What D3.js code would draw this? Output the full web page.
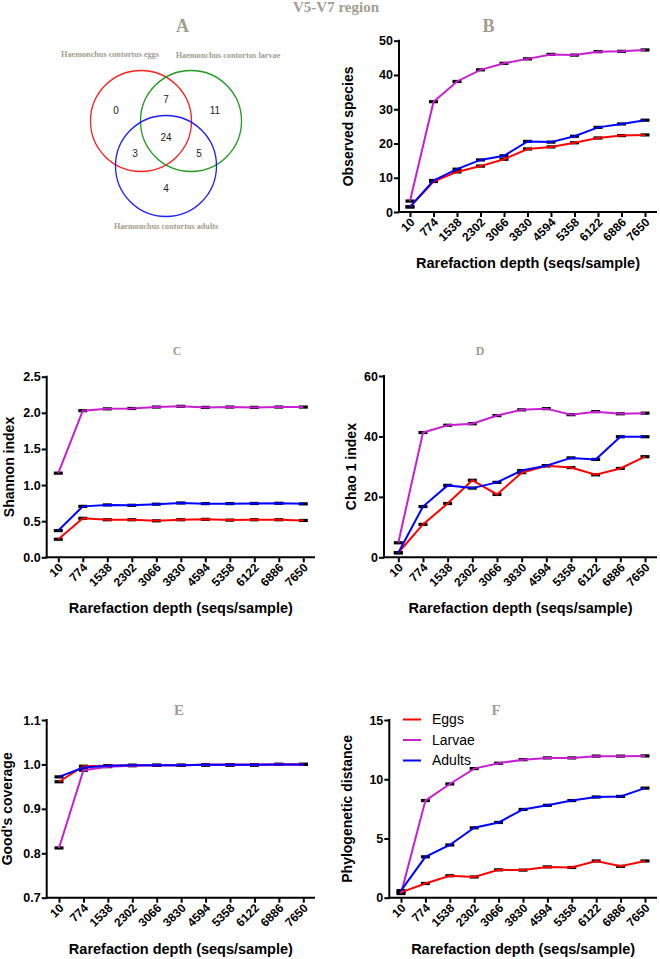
<!DOCTYPE html>
<html><head><meta charset="utf-8">
<script src="https://cdn.jsdelivr.net/npm/d3@7"></script>
<style>body{margin:0;background:#fff}svg{display:block}</style>
</head><body>
<svg id="c" width="660" height="959"></svg>
<script>
const depths = ["10","774","1538","2302","3066","3830","4594","5358","6122","6886","7650"];
const seriesNames = ["Eggs","Larvae","Adults"];
const seriesColors = ["#ff0000","#c81ed2","#0000ff"];

const observedEggs   = [1.5, 8.9, 11.7, 13.4, 15.4, 18.4, 19.0, 20.2, 21.6, 22.3, 22.5];
const observedLarvae = [3.2, 32.2, 38.1, 41.5, 43.4, 44.7, 46.0, 45.8, 46.8, 46.9, 47.3];
const observedAdults = [1.5, 9.2, 12.5, 15.2, 16.4, 20.6, 20.4, 22.1, 24.7, 25.7, 26.8];

const shannonEggs   = [0.25, 0.54, 0.52, 0.52, 0.505, 0.52, 0.525, 0.515, 0.52, 0.52, 0.51];
const shannonLarvae = [1.165, 2.03, 2.055, 2.06, 2.08, 2.09, 2.075, 2.08, 2.075, 2.08, 2.08];
const shannonAdults = [0.37, 0.705, 0.725, 0.72, 0.735, 0.752, 0.743, 0.743, 0.745, 0.748, 0.74];

const chaoEggs   = [1.5, 10.9, 17.8, 25.5, 20.8, 28.0, 30.3, 29.7, 27.3, 29.4, 33.3];
const chaoLarvae = [4.8, 41.3, 43.7, 44.2, 46.9, 48.8, 49.2, 47.2, 48.2, 47.5, 47.7];
const chaoAdults = [1.5, 16.8, 23.8, 22.9, 24.8, 28.7, 30.3, 32.9, 32.4, 39.9, 39.9];

const coverageEggs   = [0.961, 0.996, 0.997, 0.998, 0.998, 0.998, 0.999, 0.999, 0.999, 1.0, 1.0];
const coverageLarvae = [0.812, 0.987, 0.995, 0.997, 0.998, 0.998, 0.999, 0.999, 0.999, 1.0, 1.0];
const coverageAdults = [0.972, 0.993, 0.997, 0.998, 0.998, 0.998, 0.999, 0.999, 0.999, 1.0, 1.0];

const pdEggs   = [0.45, 1.2, 1.85, 1.75, 2.35, 2.33, 2.6, 2.55, 3.1, 2.65, 3.1];
const pdLarvae = [0.35, 8.2, 9.6, 10.9, 11.35, 11.65, 11.8, 11.8, 11.95, 11.95, 11.97];
const pdAdults = [0.6, 3.45, 4.45, 5.9, 6.35, 7.45, 7.8, 8.2, 8.5, 8.55, 9.25];

const vennSetLabels = ["Haemonchus contortus eggs","Haemonchus contortus larvae","Haemonchus contortus adults"];
const vennCounts = {eggsOnly:0, eggsLarvae:7, larvaeOnly:11, all:24, eggsAdults:3, larvaeAdults:5, adultsOnly:4};

const svg = d3.select("#c");
const gray = "#a39d90";
const serif = "'Liberation Serif','Times New Roman',serif";
const sans = "'Liberation Sans',Arimo,Arial,sans-serif";

svg.append("text").attr("x",336).attr("y",12).attr("text-anchor","middle")
  .attr("font-family",serif).attr("font-weight","bold").attr("font-size",15).attr("fill",gray)
  .text("V5-V7 region");

// ---- Venn (A)
svg.append("text").attr("x",182.5).attr("y",32).attr("text-anchor","middle")
  .attr("font-family",serif).attr("font-weight","bold").attr("font-size",18).attr("fill",gray).text("A");
const vc = [{cx:141,cy:121,c:"#ff1e1e"},{cx:191,cy:121,c:"#1e9a1e"},{cx:166,cy:166,c:"#1e1eff"}];
svg.selectAll("circle.venn").data(vc).enter().append("circle")
  .attr("cx",d=>d.cx).attr("cy",d=>d.cy).attr("r",50.5)
  .attr("fill","none").attr("stroke",d=>d.c).attr("stroke-width",1.3);
const vl = [{x:110,y:57,t:vennSetLabels[0]},{x:228,y:58,t:vennSetLabels[1]},{x:166,y:229,t:vennSetLabels[2]}];
svg.selectAll("text.vl").data(vl).enter().append("text")
  .attr("x",d=>d.x).attr("y",d=>d.y).attr("text-anchor","middle")
  .attr("font-family",serif).attr("font-weight","bold").attr("font-size",8.2).attr("fill",gray).text(d=>d.t);
const vn = [{x:116,y:110,v:vennCounts.eggsOnly},{x:166,y:99,v:vennCounts.eggsLarvae},{x:215,y:110,v:vennCounts.larvaeOnly},
  {x:166,y:137,v:vennCounts.all},{x:135,y:153,v:vennCounts.eggsAdults},{x:199,y:153,v:vennCounts.larvaeAdults},{x:166,y:188,v:vennCounts.adultsOnly}];
svg.selectAll("text.vn").data(vn).enter().append("text")
  .attr("x",d=>d.x).attr("y",d=>d.y).attr("dy","0.35em").attr("text-anchor","middle")
  .attr("font-family",sans).attr("font-size",10).attr("fill","#222").text(d=>d.v);

// ---- line panels
function panel(o){
  const g = svg.append("g");
  const x = d3.scalePoint().domain(depths).range([o.x0,o.x1]);
  const y = d3.scaleLinear().domain(o.domain).range([o.yb,o.yt]);
  g.append("text").attr("x",o.lx).attr("y",o.ly).attr("text-anchor","middle")
    .attr("font-family",serif).attr("font-weight","bold").attr("font-size",o.lfs).attr("fill",gray).text(o.letter);
  // y axis
  const ya = g.append("g").attr("transform",`translate(${o.ax},0)`)
    .call(d3.axisLeft(y).tickValues(o.ticks).tickFormat(o.fmt).tickSize(5).tickSizeOuter(0));
  ya.select(".domain").remove();
  g.append("line").attr("x1",o.ax).attr("x2",o.ax).attr("y1",o.yt-1).attr("y2",o.yb+1).attr("stroke","#000").attr("stroke-width",2);
  ya.selectAll(".tick line").attr("stroke","#000").attr("stroke-width",2);
  ya.selectAll(".tick text").attr("font-family",sans).attr("font-weight","bold").attr("font-size",12.5).attr("fill","#000").attr("x",-6);
  // x axis
  const xa = g.append("g").attr("transform",`translate(0,${o.yb})`)
    .call(d3.axisBottom(x).tickSize(5).tickSizeOuter(0));
  xa.select(".domain").remove();
  g.append("line").attr("x1",o.ax-1).attr("x2",o.xend).attr("y1",o.yb).attr("y2",o.yb).attr("stroke","#000").attr("stroke-width",2);
  xa.selectAll(".tick line").attr("stroke","#000").attr("stroke-width",2);
  xa.selectAll(".tick text").attr("font-family",sans).attr("font-weight","bold").attr("font-size",12).attr("fill","#000")
    .attr("text-anchor","end").attr("dy",0).attr("y",0)
    .attr("transform","translate(5,11) rotate(-45)");
  g.append("text").attr("x",(o.ax+o.xend)/2).attr("y",o.yb+56).attr("text-anchor","middle")
    .attr("font-family",sans).attr("font-weight","bold").attr("font-size",14.5).attr("fill","#000")
    .text("Rarefaction depth (seqs/sample)");
  g.append("text").attr("transform",`translate(${o.tx},${(o.yt+o.yb)/2}) rotate(-90)`).attr("text-anchor","middle")
    .attr("font-family",sans).attr("font-weight","bold").attr("font-size",14).attr("fill","#000").text(o.title);
  const line = d3.line().x((d,i)=>x(depths[i])).y(d=>y(d));
  o.series.forEach((s,k)=>{
    g.append("g").selectAll("line").data(s).enter().append("line")
      .attr("x1",(d,i)=>x(depths[i])-4.5).attr("x2",(d,i)=>x(depths[i])+4.5)
      .attr("y1",d=>y(d)).attr("y2",d=>y(d)).attr("stroke","#000").attr("stroke-width",3.2);
  });
  o.series.forEach((s,k)=>{
    g.append("path").datum(s).attr("d",line).attr("fill","none")
      .attr("stroke",seriesColors[k]).attr("stroke-width",2);
  });
  if(o.legend){
    seriesNames.forEach((n,k)=>{
      const yy = o.legend.y + k*20.5;
      g.append("line").attr("x1",o.legend.x).attr("x2",o.legend.x+18).attr("y1",yy).attr("y2",yy)
        .attr("stroke",seriesColors[k]).attr("stroke-width",2);
      g.append("text").attr("x",o.legend.x+29).attr("y",yy).attr("dy","0.35em")
        .attr("font-family",sans).attr("font-size",14).attr("fill","#000").text(n);
    });
  }
}

panel({letter:"B",lx:488.5,ly:32,lfs:18,ax:399,x0:410,x1:645,xend:657,yt:40.7,yb:212,domain:[0,50],
  ticks:[0,10,20,30,40,50],fmt:d3.format("d"),title:"Observed species",tx:353,
  series:[observedEggs,observedLarvae,observedAdults]});
panel({letter:"C",lx:177,ly:355,lfs:12,ax:46.7,x0:58.3,x1:303.3,xend:315,yt:376.7,yb:557.3,domain:[0,2.5],
  ticks:[0,0.5,1,1.5,2,2.5],fmt:d3.format(".1f"),title:"Shannon index",tx:13.5,
  series:[shannonEggs,shannonLarvae,shannonAdults]});
panel({letter:"D",lx:480,ly:355,lfs:12,ax:384,x0:398.3,x1:645,xend:657,yt:376,yb:557.3,domain:[0,60],
  ticks:[0,20,40,60],fmt:d3.format("d"),title:"Chao 1 index",tx:356,
  series:[chaoEggs,chaoLarvae,chaoAdults]});
panel({letter:"E",lx:179,ly:715,lfs:15,ax:46.7,x0:59,x1:303.3,xend:315,yt:720,yb:897.7,domain:[0.7,1.1],
  ticks:[0.7,0.8,0.9,1.0,1.1],fmt:d3.format(".1f"),title:"Good's coverage",tx:12,
  series:[coverageEggs,coverageLarvae,coverageAdults]});
panel({letter:"F",lx:496,ly:715,lfs:15,ax:389.3,x0:401,x1:645,xend:657,yt:720,yb:897.7,domain:[0,15],
  ticks:[0,5,10,15],fmt:d3.format("d"),title:"Phylogenetic distance",tx:352,
  series:[pdEggs,pdLarvae,pdAdults],legend:{x:403,y:719.5}});
</script>
</body></html>
